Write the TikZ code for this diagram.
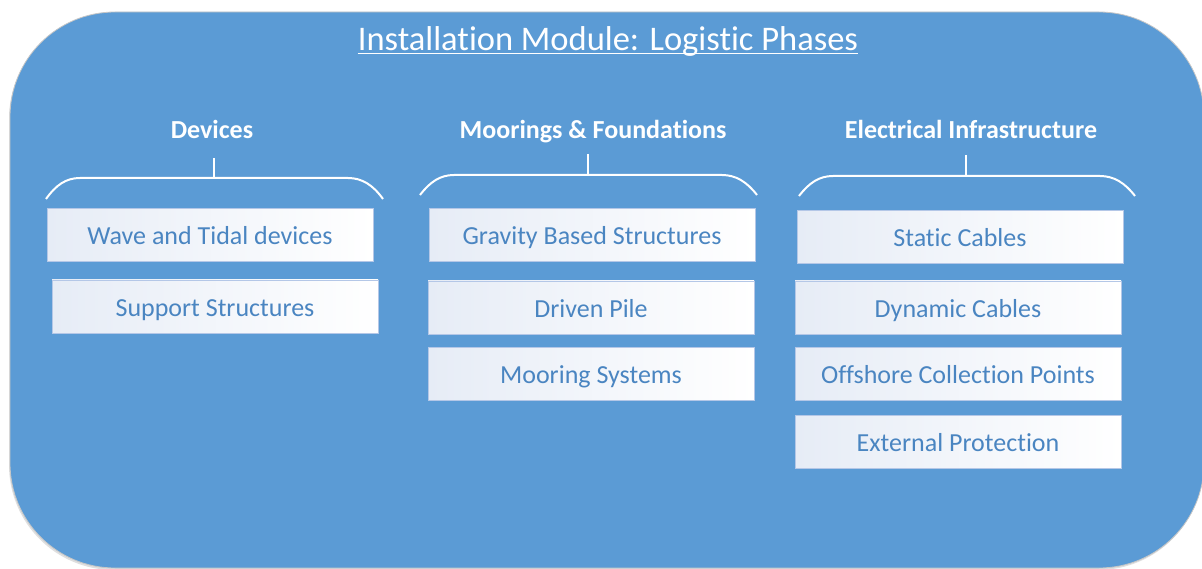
\documentclass[tikz,border=0pt]{standalone}
\usepackage{fontspec}
\setmainfont[Ligatures=NoCommon]{Carlito}
\usetikzlibrary{shadows}
\definecolor{panelblue}{HTML}{5B9BD5}
\definecolor{boxtext}{HTML}{4A85C1}
\definecolor{boxleft}{HTML}{E6ECF6}
\definecolor{boxedge}{HTML}{B4C7E7}
\tikzset{
  itembox/.style={draw=boxedge, line width=0.8pt, left color=boxleft, right color=white,
    minimum width=326pt, minimum height=53pt, inner sep=0pt, text=boxtext,
    text height=19.5pt, text depth=0pt,
    font=\fontsize{26}{30}\selectfont},
  heading/.style={text=white, font=\bfseries\fontsize{26}{30}\selectfont, anchor=base},
  bracket/.style={draw=white, line width=2pt}
}
\begin{document}
\begin{tikzpicture}[x=1pt,y=-1pt]
\useasboundingbox (0,0) rectangle (1202,569);
\fill[white] (0,0) rectangle (1202,569);
\begin{scope}
\clip (0,0) rectangle (1202,569);
\filldraw[draw=gray!45, line width=0.8pt, fill=panelblue, rounded corners=105pt,
  drop shadow={shadow xshift=-1pt, shadow yshift=-2pt, opacity=0.25}]
  (10,12) rectangle (1204,568);
\end{scope}
\node[text=white, font=\fontsize{34.5}{38}\selectfont, anchor=base, inner sep=0pt] (title) at (608,50.5) {Installation Module: Logistic Phases};
\draw[white, line width=1.8pt] ([yshift=-3pt]title.base west) -- ([yshift=-3pt]title.base east);

% headings
\node[heading] (hdev) at (212,138.5) {Devices};
\node[heading] (hmoor) at (593,138.5) {Moorings \& Foundations};
\node[heading] (helec) at (971,138.5) {Electrical Infrastructure};

% brackets
\draw[bracket] (46,199) .. controls (56,185) and (66,178) .. (80,178) -- (348,178) .. controls (362,178) and (373,185) .. (383,199);
\draw[bracket] (214,158) -- (214,178);
\draw[bracket] (420,195) .. controls (430,182) and (440,175) .. (454,175) -- (722,175) .. controls (736,175) and (747,182) .. (757,195);
\draw[bracket] (588,154) -- (588,175);
\draw[bracket] (799,196) .. controls (809,183) and (819,176) .. (833,176) -- (1100,176) .. controls (1114,176) and (1125,183) .. (1135,196);
\draw[bracket] (966,155) -- (966,176);

% boxes
\node[itembox] (d1) at (210,235) {Wave and Tidal devices};
\node[itembox] (d2) at (215,306.5) {Support Structures};
\node[itembox] (m1) at (592,235) {Gravity Based Structures};
\node[itembox] (m2) at (591,307.5) {Driven Pile};
\node[itembox] (m3) at (591,373.5) {Mooring Systems};
\node[itembox] (e1) at (960,237) {Static Cables};
\node[itembox] (e2) at (958,307.5) {Dynamic Cables};
\node[itembox] (e3) at (958,373.5) {Offshore Collection Points};
\node[itembox] (e4) at (958,441.5) {External Protection};
\end{tikzpicture}
\end{document}
